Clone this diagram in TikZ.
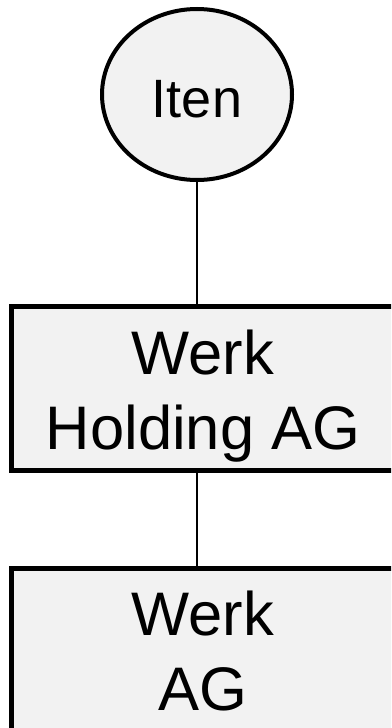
\documentclass[tikz,border=0pt]{standalone}
\usepackage{fontspec}
\setmainfont{Liberation Sans}
\usetikzlibrary{shapes.geometric}
\begin{document}
\begin{tikzpicture}[x=1pt,y=-1pt,
  entity/.style={draw=black,fill=gray!10,line width=5pt,
    minimum width=384pt,minimum height=164pt,inner sep=0pt},
  person/.style={ellipse,draw=black,fill=gray!10,line width=4pt,
    minimum width=190pt,minimum height=171pt,inner sep=0pt},
  persontext/.style={anchor=base,inner sep=0pt,font=\fontsize{54}{64}\selectfont},
  boxtext/.style={anchor=base,inner sep=0pt,font=\fontsize{61.5}{75}\selectfont},
  link/.style={draw=black,line width=1.5pt}]
\useasboundingbox (0,0) rectangle (391,728);
\clip (0,0) rectangle (391,728);

% shareholder
\node[person] (iten) at (197,94.5) {};
\node[persontext] (itenname) at (197,117.5) {Iten};

% holding company
\node[entity] (holding) at (203,388.5) {};
\node[boxtext] (holding1) at (203,374) {Werk};
\node[boxtext] (holding2) at (203,449) {Holding AG};

% operating company
\node[entity] (werk) at (203,650) {};
\node[boxtext] (werk1) at (203,635) {Werk};
\node[boxtext] (werk2) at (203,710) {AG};

% ownership links
\draw[link] (iten.south) -- (iten.south |- holding.north);
\draw[link] (iten.south |- holding.south) -- (iten.south |- werk.north);
\end{tikzpicture}
\end{document}
